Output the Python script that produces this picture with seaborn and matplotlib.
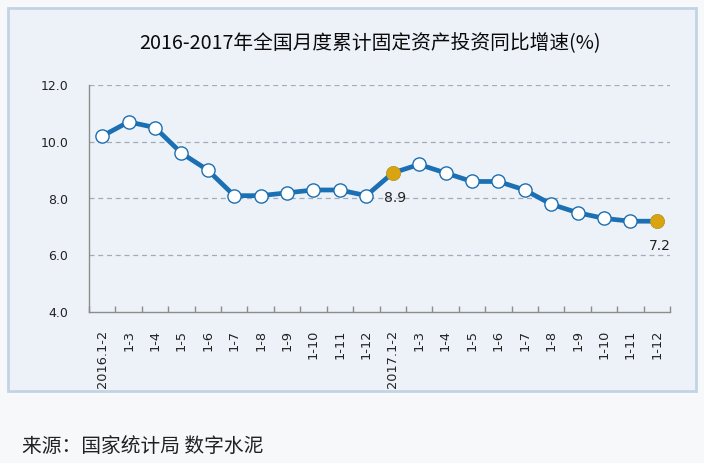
import matplotlib
matplotlib.use("Agg")
import matplotlib.pyplot as plt
from matplotlib.patches import Rectangle
from matplotlib.ticker import FixedLocator
import pandas as pd
import seaborn as sns

labels = ["2016.1-2", "1-3", "1-4", "1-5", "1-6", "1-7", "1-8", "1-9", "1-10", "1-11", "1-12",
          "2017.1-2", "1-3", "1-4", "1-5", "1-6", "1-7", "1-8", "1-9", "1-10", "1-11", "1-12"]
growth = [10.2, 10.7, 10.5, 9.6, 9.0, 8.1, 8.1, 8.2, 8.3, 8.3, 8.1,
          8.9, 9.2, 8.9, 8.6, 8.6, 8.3, 7.8, 7.5, 7.3, 7.2, 7.2]
highlight = [11, 21]
yticks = [4, 6, 8, 10, 12]

sns.set_theme(style="white")
plt.rcParams["font.family"] = ["DejaVu Sans", "Noto Sans CJK SC"]

df = pd.DataFrame({"pos": range(len(growth)), "value": growth})

fig = plt.figure(figsize=(7.04, 4.63), dpi=100)
fig.patch.set_facecolor("#f7f8fa")
fig.patches.append(Rectangle((8 / 704, 1 - 391 / 463), 688 / 704, 383 / 463,
                             transform=fig.transFigure, facecolor="#edf2f9",
                             edgecolor="#c3d3e6", linewidth=2, zorder=-5))

ax = fig.add_axes([89 / 704, 1 - 312 / 463, 581 / 704, 227 / 463])
ax.set_facecolor("none")

sns.lineplot(data=df, x="pos", y="value", ax=ax, color="#1b6fb3", linewidth=3.4,
             marker="o", markersize=9.5, markerfacecolor="white",
             markeredgecolor="#1b6fb3", markeredgewidth=1.0, zorder=3)
hl = df.iloc[highlight]
sns.scatterplot(data=hl, x="pos", y="value", ax=ax, color="#d9a40f", s=95,
                edgecolor="#d9a40f", zorder=4)

for i in highlight:
    ax.annotate(f"{growth[i]:.1f}", (i, growth[i]), xytext=(2, -18),
                textcoords="offset points", ha="center", va="center",
                fontsize=10, color="#222222")

ax.set_xlim(-0.5, len(growth) - 0.5)
ax.set_ylim(4, 12)
ax.set_yticks(yticks)
ax.set_yticklabels([f"{v:.1f}" for v in yticks], fontsize=9)
ax.set_xticks(range(len(labels)))
ax.set_xticklabels(labels, rotation=90, fontsize=9.3, va="top")
ax.xaxis.set_minor_locator(FixedLocator([i - 0.5 for i in range(len(labels) + 1)]))
ax.tick_params(axis="x", which="major", bottom=True, length=0, pad=13, colors="#222222")
ax.tick_params(axis="x", which="minor", bottom=True, length=4, width=1.0,
               color="#8c8c8c", direction="in")
ax.tick_params(axis="y", length=0, pad=15, colors="#222222")
ax.set_xlabel("")
ax.set_ylabel("")

for v in [6, 8, 10, 12]:
    ax.axhline(v, color="#a3abba", linewidth=0.9, linestyle=(0, (4, 3)), zorder=1)

for side in ["top", "right"]:
    ax.spines[side].set_visible(False)
for side in ["left", "bottom"]:
    ax.spines[side].set_color("#8c8c8c")
    ax.spines[side].set_linewidth(1.0)

fig.text(370 / 704, 1 - 44 / 463, "2016-2017年全国月度累计固定资产投资同比增速(%)",
         ha="center", va="center", fontsize=14.2, color="#0a0a0a",
         family=["Noto Sans CJK SC", "DejaVu Sans"])
fig.text(22 / 704, 1 - 446 / 463, "来源：国家统计局 数字水泥", ha="left", va="center",
         fontsize=14.2, color="#222222", family=["Noto Sans CJK SC", "DejaVu Sans"])

fig.savefig("out.png", dpi=100, facecolor=fig.get_facecolor())
